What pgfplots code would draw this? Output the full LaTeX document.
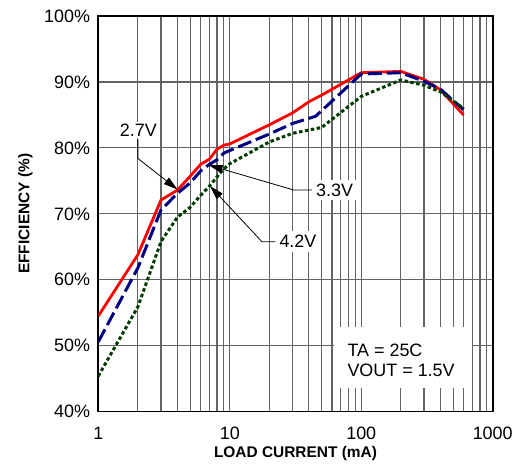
\documentclass[border=0pt]{standalone}
\usepackage{fontspec}
\setmainfont{Liberation Sans}
\usepackage{pgfplots}
\pgfplotsset{compat=1.18}
\usetikzlibrary{arrows.meta}

\definecolor{cRed}{RGB}{255,0,0}
\definecolor{cBlue}{RGB}{0,0,128}
\definecolor{cGreen}{RGB}{0,60,0}
\definecolor{cGrid}{RGB}{100,100,100}

\begin{document}
\begin{tikzpicture}[x=1bp,y=1bp]
\begin{axis}[
  at={(0,0)}, anchor=south west,
  scale only axis, width=394.4bp, height=395.7bp,
  xmode=log, xmin=1, xmax=1000, ymin=40, ymax=100,
  xtick={1,10,100,1000}, xticklabels={1,10,100,1000},
  minor xtick={2,3,...,9,20,30,...,90,200,300,...,900},
  ytick={40,50,...,100},
  yticklabels={40\%,50\%,60\%,70\%,80\%,90\%,100\%},
  grid=both,
  major grid style={cGrid, line width=1.15bp},
  minor grid style={cGrid, line width=1.15bp},
  major tick length=0pt, minor tick length=0pt,
  axis line style={black, line width=1.6bp},
  tick label style={font=\fontsize{18}{21}\selectfont},
  xticklabel style={inner sep=0pt, anchor=north, yshift=-15bp},
  yticklabel style={inner sep=0pt, anchor=east, xshift=-8bp},
  xlabel={LOAD CURRENT (mA)}, ylabel={EFFICIENCY (\%)},
  label style={font=\bfseries\fontsize{15.5}{18}\selectfont},
  xlabel style={at={(axis description cs:0.5,-0.105)}, anchor=center},
  ylabel style={at={(axis description cs:-0.185,0.5)}, anchor=center},
  every axis plot/.append style={line join=round},
]
% VIN = 2.7 V
\addplot[cRed, line width=2.8bp] coordinates {
  (1,54.5) (2,63.8) (3,72.1) (4,73.6) (5,75.7) (6,77.5) (7,78.3)
  (8,79.8) (9,80.4) (10,80.6) (20,83.5) (30,85.3) (40,87.0) (50,88.0)
  (100,91.4) (200,91.6) (300,90.4) (400,88.8) (600,85.0)};
% VIN = 3.3 V
\addplot[cBlue, line width=3bp, dash pattern=on 14bp off 5bp] coordinates {
  (1,50.6) (2,61.8) (3,70.6) (4,73.1) (5,74.7) (6,76.5) (7,77.5)
  (8,78.2) (9,79.2) (10,79.6) (20,82.1) (30,83.7) (45,84.8)
  (100,91.2) (200,91.4) (300,90.1) (400,88.9) (600,85.8)};
% VIN = 4.2 V
\addplot[cGreen, line width=3bp, dash pattern=on 3.5bp off 2.5bp] coordinates {
  (1,45.4) (2,55.9) (3,65.8) (4,69.5) (5,71.0) (6,72.8) (7,74.2)
  (8,75.6) (9,76.8) (10,77.6) (20,80.9) (30,82.2) (50,83.1)
  (100,87.8) (200,90.3) (300,89.5) (400,88.5) (600,86.0)};

% curve labels
\node[fill=white, inner sep=2bp, font=\fontsize{18}{21}\selectfont]
  at (axis cs:2.02,82.7) {2.7V};
\draw[line width=0.8bp, -{Triangle[length=14bp,width=8bp]}]
  (axis cs:2,81.3) -- (axis cs:2,78.4) -- (axis cs:4,73.7);

\draw[line width=0.8bp, -{Triangle[length=14bp,width=8bp]}]
  (axis cs:42.2,73.62) -- (axis cs:30.56,73.62) -- (axis cs:6.9,77.4);
\node[fill=white, anchor=west, inner sep=4bp, font=\fontsize{18}{21}\selectfont]
  at (axis cs:42.2,73.62) {3.3V};

\draw[line width=0.8bp, -{Triangle[length=14bp,width=8bp]}]
  (axis cs:22.2,65.78) -- (axis cs:17.56,65.78) -- (axis cs:7.09,74.2);
\node[fill=white, anchor=west, inner sep=4bp, font=\fontsize{18}{21}\selectfont]
  at (axis cs:22.2,65.78) {4.2V};

% test conditions
\fill[white] (rel axis cs:0.5976,0.0599) rectangle (rel axis cs:0.9475,0.214);
\node[anchor=west, align=left, inner sep=0pt, font=\fontsize{18}{20}\selectfont]
  at (rel axis cs:0.6314,0.1307) {TA = 25C\\VOUT = 1.5V};
\end{axis}
\pgfresetboundingbox
\path (-98.3,-52.3) rectangle (417.7,411.7);
\end{tikzpicture}
\end{document}
